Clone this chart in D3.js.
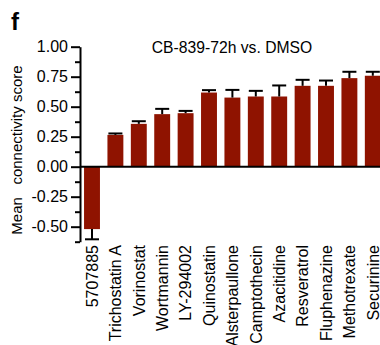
<!DOCTYPE html>
<head>
<meta charset="utf-8">
<script src="https://d3js.org/d3.v7.min.js"></script>
</head>
<style>
body { margin: 0; background: #fff; }
text { font-family: "Liberation Sans", Arial, sans-serif; fill: #000; }
.axis path, .axis line { stroke: #000; stroke-width: 2px; }
</style>
<body>
<script>
// data
var drugs = ["5707885", "Trichostatin A", "Vorinostat", "Wortmannin", "LY-294002",
  "Quinostatin", "Alsterpaullone", "Camptothecin", "Azacitidine", "Resveratrol",
  "Fluphenazine", "Methotrexate", "Securinine"];
var scores = [-0.52, 0.265, 0.357, 0.438, 0.446, 0.618, 0.576, 0.585, 0.585, 0.674, 0.674, 0.738, 0.758];
var errors = [0.085, 0.012, 0.022, 0.044, 0.019, 0.02, 0.064, 0.047, 0.092, 0.05, 0.044, 0.053, 0.033];
var yTicks = [-0.5, -0.25, 0, 0.25, 0.5, 0.75, 1.0];
var yMinor = [-0.625, -0.375, -0.125, 0.125, 0.375, 0.625, 0.875];

var width = 380, height = 345;
var svg = d3.select("body").append("svg")
    .attr("width", width)
    .attr("height", height);

var x = d3.scaleBand().domain(drugs).range([80.3, 80.3 + 13 * 23.4])
    .paddingInner(0.32).paddingOuter(0.16);
var y = d3.scaleLinear().domain([-0.625, 1.0]).range([241.7, 46.7]);

// bars
svg.selectAll(".bar").data(drugs).enter().append("rect")
    .attr("x", function(d) { return x(d); })
    .attr("width", x.bandwidth())
    .attr("y", function(d, i) { return y(Math.max(0, scores[i])); })
    .attr("height", function(d, i) { return Math.abs(y(scores[i]) - y(0)); })
    .attr("fill", "#8f1300");

// error bars (one-sided, away from zero)
var cap = 7;
var eb = svg.selectAll(".err").data(drugs).enter().append("g")
    .attr("stroke", "#000").attr("stroke-width", 2);
eb.append("line")
    .attr("x1", function(d) { return x(d) + x.bandwidth() / 2; })
    .attr("x2", function(d) { return x(d) + x.bandwidth() / 2; })
    .attr("y1", function(d, i) { return y(scores[i]); })
    .attr("y2", function(d, i) { return y(scores[i] + Math.sign(scores[i]) * errors[i]); });
eb.append("line")
    .attr("x1", function(d) { return x(d) + x.bandwidth() / 2 - cap; })
    .attr("x2", function(d) { return x(d) + x.bandwidth() / 2 + cap; })
    .attr("y1", function(d, i) { return y(scores[i] + Math.sign(scores[i]) * errors[i]); })
    .attr("y2", function(d, i) { return y(scores[i] + Math.sign(scores[i]) * errors[i]); });

// y axis with minor ticks
svg.append("g")
    .attr("class", "axis")
    .attr("transform", "translate(80,0)")
    .call(d3.axisLeft(y).tickValues(yMinor).tickSize(5).tickFormat(""))
    .select(".domain").remove();
var yAxis = svg.append("g")
    .attr("class", "axis")
    .attr("transform", "translate(80,0)")
    .call(d3.axisLeft(y).tickValues(yTicks).tickSize(9).tickSizeOuter(0).tickPadding(3)
      .tickFormat(d3.format(".2f")));
yAxis.selectAll("text").attr("font-size", "16px")
    .text(function(d) { return d3.format(".2f")(d).replace("−", "-"); });

// x axis at zero
svg.append("line")
    .attr("x1", 80).attr("x2", width)
    .attr("y1", y(0)).attr("y2", y(0))
    .attr("stroke", "#000").attr("stroke-width", 2);

// category labels
svg.selectAll(".xlab").data(drugs).enter().append("text")
    .attr("transform", function(d) {
      return "translate(" + (x(d) + x.bandwidth() / 2) + ",245) rotate(-90)";
    })
    .attr("text-anchor", "end")
    .attr("dy", "0.36em")
    .attr("font-size", "16px")
    .text(function(d) { return d; });

// titles
svg.append("text")
    .attr("x", 232).attr("y", 53)
    .attr("text-anchor", "middle")
    .attr("font-size", "15.7px")
    .text("CB-839-72h vs. DMSO");
svg.append("text")
    .attr("x", 11).attr("y", 30)
    .attr("font-size", "24px")
    .attr("font-weight", "bold")
    .text("f");
svg.append("text")
    .attr("transform", "translate(22,150) rotate(-90)")
    .attr("text-anchor", "middle")
    .attr("font-size", "15px")
    .style("white-space", "pre")
    .text("Mean   connectivity score");
</script>
</body>
